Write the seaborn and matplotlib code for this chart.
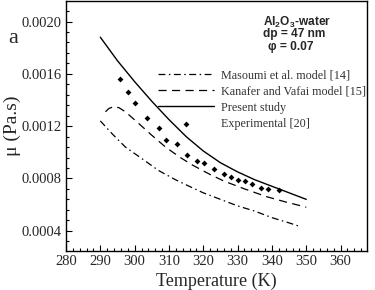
import numpy as np
import pandas as pd
import seaborn as sns
import matplotlib
matplotlib.use("Agg")
import matplotlib.pyplot as plt
from matplotlib.ticker import MultipleLocator, FormatStrFormatter

# values
temp_present = [290, 295, 300, 305, 310, 315, 320, 325, 330, 335, 340, 345, 350]
mu_present = [0.00188, 0.00170, 0.00154, 0.00139, 0.00125, 0.00112, 0.00101, 0.00092,
              0.00085, 0.00079, 0.00074, 0.00069, 0.00064]

temp_kanafer = [291.5, 292.5, 294, 295.5, 297.3, 301.2, 305, 309, 313.3, 317, 322, 326,
                332, 338.5, 344, 350]
mu_kanafer = [0.00131, 0.001335, 0.00135, 0.00134, 0.00131, 0.00122, 0.00113, 0.00104,
              0.00096, 0.00090, 0.00083, 0.00078, 0.00072, 0.00066, 0.00062, 0.00058]

temp_masoumi = [290, 293.5, 297.3, 302.2, 307, 311.9, 316.7, 320, 325, 330, 335, 340, 345, 348.5]
mu_masoumi = [0.00124, 0.00114, 0.00104, 0.00095, 0.00086, 0.00079, 0.00073, 0.00069,
              0.00064, 0.00059, 0.00055, 0.00050, 0.00046, 0.00043]

temp_exp = [295.8, 298.2, 300.1, 303.5, 307.0, 309.1, 312.3, 315.2, 318.2, 320.3, 323.0,
            326.0, 328.0, 330.2, 332.1, 334.1, 336.7, 339.0, 342.1]
mu_exp = [0.00156, 0.001458, 0.001379, 0.001265, 0.001188, 0.001097, 0.001061, 0.000982,
          0.000934, 0.000921, 0.000873, 0.000837, 0.000814, 0.000789, 0.000779, 0.000756,
          0.00073, 0.00072, 0.00071]

labels = ["Masoumi et al. model [14]", "Kanafer and Vafai model [15]",
          "Present study", "Experimental [20]"]

sns.set_style("ticks")
plt.rcParams['font.family'] = ['Liberation Serif', 'DejaVu Serif']
plt.rcParams['mathtext.fontset'] = 'custom'
plt.rcParams['mathtext.rm'] = 'Liberation Sans:bold'
plt.rcParams['mathtext.it'] = 'Liberation Sans:bold'
plt.rcParams['mathtext.bf'] = 'Liberation Sans:bold'

fig = plt.figure(figsize=(3.75, 2.9), dpi=100)
ax = fig.add_axes([66 / 375, 1 - 251 / 290, 301 / 375, 250 / 290])

sns.lineplot(x=temp_masoumi, y=mu_masoumi, color="black", lw=0.9, sort=False,
             linestyle=(0, (5.5, 2.8, 1.2, 2.8)), label=labels[0], ax=ax)
sns.lineplot(x=temp_kanafer, y=mu_kanafer, color="black", lw=0.9, sort=False,
             linestyle=(0, (6.5, 4.3)), label=labels[1], ax=ax)
sns.lineplot(x=temp_present, y=mu_present, color="black", lw=1.0, sort=False,
             label=labels[2], ax=ax)
sns.scatterplot(x=temp_exp, y=mu_exp, color="black", marker="D", s=9, linewidth=0,
                label=labels[3], ax=ax)

ax.set_xlim(280, 367.7)
ax.set_ylim(0.000245, 0.002157)
ax.xaxis.set_major_locator(MultipleLocator(10))
ax.xaxis.set_minor_locator(MultipleLocator(2))
ax.yaxis.set_major_locator(MultipleLocator(0.0004))
ax.yaxis.set_minor_locator(MultipleLocator(0.00008))
ax.yaxis.set_major_formatter(FormatStrFormatter('%.4f'))
ax.tick_params(which='both', direction='in', top=False, right=False, labelsize=10.5,
               width=0.8, color='black', pad=3)
ax.tick_params(which='major', length=4)
ax.tick_params(which='minor', length=2.2)
for sp in ax.spines.values():
    sp.set_visible(True)
    sp.set_linewidth(1.0)
    sp.set_color('black')

ax.set_xlabel("Temperature (K)", fontsize=13, labelpad=3)
ax.set_ylabel("μ (Pa.s)", fontsize=14)
ax.yaxis.set_label_coords(-0.148, 0.5)

leg = ax.legend(loc='upper left', bbox_to_anchor=(158 / 375, 1 - 69 / 290),
                bbox_transform=fig.transFigure, frameon=False, fontsize=8.7,
                handlelength=4.6, handletextpad=0.6, labelspacing=0.36,
                borderpad=0, borderaxespad=0, markerscale=1.0)
for t in leg.get_texts():
    t.set_color('#333333')

fig.text(13 / 375, 1 - 39 / 290, "a", fontsize=16, ha='center', va='center')
annot = dict(fontsize=8.6, fontweight='bold', family=['Liberation Sans'], ha='center',
             va='center')
fig.text(297 / 375, 1 - 22 / 290, r"Al$_2$O$_3$-water", **annot)
fig.text(294 / 375, 1 - 34.5 / 290, "dp = 47 nm", **annot)
fig.text(291 / 375, 1 - 46.7 / 290, "φ = 0.07", **annot)

fig.savefig("out.png", dpi=100)
